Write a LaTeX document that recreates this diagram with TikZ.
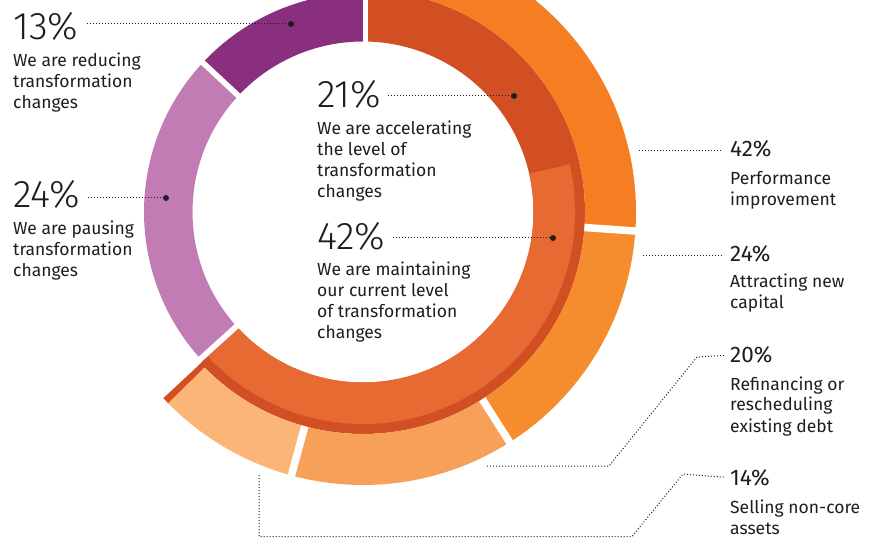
\documentclass[tikz,border=0pt]{standalone}
\usepackage{fontspec}
\setmainfont{Fira Sans}
\newfontfamily\lightfont{Fira Sans Light}
\usepackage{tikz}
\usetikzlibrary{calc,positioning}
\definecolor{purpleA}{HTML}{8A2E7E}
\definecolor{purpleB}{HTML}{C27CB4}
\definecolor{rust}{HTML}{D24F24}
\definecolor{orangeA}{HTML}{E76A33}
\definecolor{orangeB}{HTML}{F47E21}
\definecolor{orangeC}{HTML}{F58D2F}
\definecolor{orangeD}{HTML}{F7A05A}
\definecolor{orangeE}{HTML}{FBB677}
\definecolor{ink}{HTML}{1E1E1E}

\begin{document}
\begin{tikzpicture}[x=1pt,y=1pt,
	gap/.style={white, line width=5.6pt},
	wgap/.style={white, line width=7.5pt},
	leader/.style={ink, line width=1pt, dash pattern=on 1pt off 2pt},
	dot/.style={circle, fill=ink, inner sep=0pt, minimum size=6pt},
	big/.style={anchor=base west, inner sep=0pt, text=ink, font=\lightfont\fontsize{38.5}{38.5}\selectfont},
	mid/.style={anchor=base west, inner sep=0pt, text=ink, font=\fontsize{22.5}{22.5}\selectfont},
	txt/.style={anchor=base west, inner sep=0pt, text=ink, align=left, font=\fontsize{17.5}{21}\selectfont}]
	\useasboundingbox (0,0) rectangle (872,538);
	\clip (0,0) rectangle (872,538);
	\begin{scope}[shift={(363,326)}]
	% inner ring
	\fill[purpleA] (90:170.5pt) arc[start angle=90, end angle=137, radius=170.5pt] -- (137:219pt) arc[start angle=137, end angle=90, radius=219pt] -- cycle;
	\fill[purpleB] (137:170.5pt) arc[start angle=137, end angle=223, radius=170.5pt] -- (223:219pt) arc[start angle=223, end angle=137, radius=219pt] -- cycle;
	\fill[rust] (-137:170.5pt) arc[start angle=-137, end angle=90, radius=170.5pt] -- (90:222pt) arc[start angle=90, end angle=-137, radius=222pt] -- cycle;
	\fill[orangeA] (-137:170.5pt) arc[start angle=-137, end angle=13, radius=170.5pt] -- (13:212pt) arc[start angle=13, end angle=-137, radius=212pt] -- cycle;
	\fill[rust] (-137:212pt) arc[start angle=-137, end angle=-135.5, radius=212pt] -- (-135.5:273pt) arc[start angle=-135.5, end angle=-137, radius=273pt] -- cycle;
	% outer ring
	\fill[orangeB] (-4:222pt) arc[start angle=-4, end angle=90, radius=222pt] -- (90:273pt) arc[start angle=90, end angle=-4, radius=273pt] -- cycle;
	\fill[orangeC] (-57.5:222pt) arc[start angle=-57.5, end angle=-4, radius=222pt] -- (-4:273pt) arc[start angle=-4, end angle=-57.5, radius=273pt] -- cycle;
	\fill[orangeD] (-105.2:222pt) arc[start angle=-105.2, end angle=-57.5, radius=222pt] -- (-57.5:273pt) arc[start angle=-57.5, end angle=-105.2, radius=273pt] -- cycle;
	\fill[orangeE] (-135.5:222pt) arc[start angle=-135.5, end angle=-105.2, radius=222pt] -- (-105.2:273pt) arc[start angle=-105.2, end angle=-135.5, radius=273pt] -- cycle;
	% white gaps
	\draw[gap] (2.5,160) -- (2.5,290);
	\draw[gap] (137:165pt) -- (137:225pt);
	\draw[gap] (-137.9:165pt) -- (-137.9:225pt);
	\draw[wgap] (-4:222pt) -- (-4:280pt);
	\draw[wgap] (-57.5:222pt) -- (-57.5:280pt);
	\draw[wgap] (-105.2:222pt) -- (-105.2:280pt);
	\end{scope}

	% left labels (multi-line text sits on its last baseline)
	\node[big] (b13) at (13,498) {13\%};
	\node[txt] (t13) at (13,429) {We are reducing\\transformation\\changes};
	\node[big] (b24) at (13,330) {24\%};
	\node[txt] (t24) at (13,261) {We are pausing\\transformation\\changes};
	% centre labels
	\node[big] (b21) at (317,430) {21\%};
	\node[txt] (t21) at (317,340) {We are accelerating\\the level of\\transformation\\changes};
	\node[big] (b42) at (317,288) {42\%};
	\node[txt] (t42) at (317,199) {We are maintaining\\our current level\\of transformation\\changes};
	% right labels
	\node[mid] (r42) at (730,381) {42\%};
	\node[txt] (s42) at (730,332) {Performance\\improvement};
	\node[mid] (r24) at (730,276) {24\%};
	\node[txt] (s24) at (730,229) {Attracting new\\capital};
	\node[mid] (r20) at (730,175) {20\%};
	\node[txt] (s20) at (730,106) {Refinancing or\\rescheduling\\existing debt};
	\node[mid] (r14) at (730,53) {14\%};
	\node[txt] (s14) at (730,4) {Selling non-core\\assets};

	% dots and leaders
	\node[dot] (d13) at (291,514) {};
	\node[dot] (d24) at (166,340) {};
	\node[dot] (d21) at (514,442) {};
	\node[dot] (d42) at (553,300) {};
	\draw[leader] ([xshift=8pt]b13.east |- d13) -- (d13);
	\draw[leader] ([xshift=8pt]b24.east |- d24) -- (d24);
	\draw[leader] ([xshift=7pt]b21.east |- d21) -- (d21);
	\draw[leader] ([xshift=7pt]b42.east |- d42) -- (d42);
	\coordinate (e42) at (639,387);
	\coordinate (e24) at (643,282);
	\coordinate (e20) at (487,72);
	\coordinate (e14) at (259,63);
	\draw[leader] (e42) -- ([xshift=-8pt]r42.west |- e42);
	\draw[leader] (e24) -- ([xshift=-8pt]r24.west |- e24);
	\draw[leader] (e20) -- (609,72) -- (697,181) -- ([xshift=-5pt]r20.west);
	\draw[leader] (e14) -- (259,1.5) -- (632,1.5) -- (683,64) -- ([xshift=-5pt]r14.west);
\end{tikzpicture}
\end{document}
